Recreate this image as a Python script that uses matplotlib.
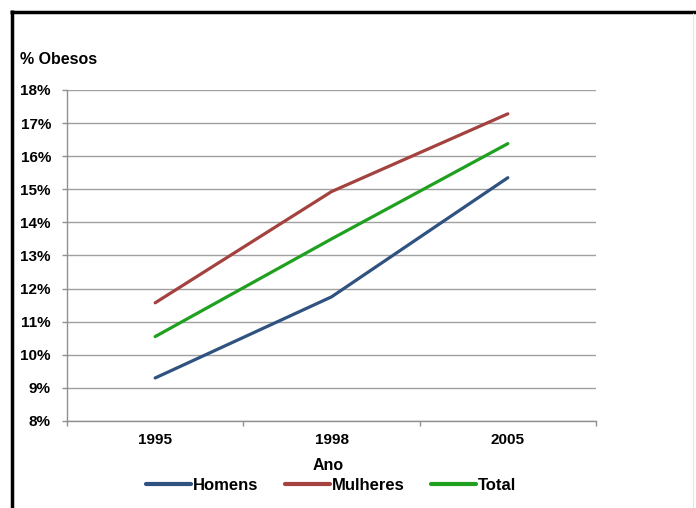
import matplotlib
matplotlib.use("Agg")
import matplotlib.pyplot as plt
from matplotlib.lines import Line2D
from matplotlib.ticker import FixedLocator, FuncFormatter

anos = ["1995", "1998", "2005"]
homens = [9.3, 11.75, 15.35]
mulheres = [11.57, 14.93, 17.28]
total = [10.55, 13.5, 16.38]
y_ticks = list(range(8, 19))

series = [
    ("Homens", homens, "#2f5280"),
    ("Mulheres", mulheres, "#a3423f"),
    ("Total", total, "#1fa01f"),
]

plt.rcParams['font.family'] = ['Liberation Sans Narrow', 'Liberation Sans', 'DejaVu Sans']

W, H = 696, 508
fig = plt.figure(figsize=(W / 100, H / 100), dpi=100)
fig.patch.set_facecolor("white")

ax = fig.add_axes([67 / W, 1 - 421 / H, (596 - 67) / W, (421 - 90) / H])
x = list(range(len(anos)))
handles = []
for name, vals, col in series:
    ln, = ax.plot(x, vals, color=col, lw=2.3, solid_capstyle="round", label=name)
    handles.append(ln)

ax.set_xlim(-0.5, len(anos) - 0.5)
ax.set_ylim(y_ticks[0], y_ticks[-1])
ax.yaxis.set_major_locator(FixedLocator(y_ticks))
ax.yaxis.set_major_formatter(FuncFormatter(lambda v, p: f"{v:.0f}%"))
ax.grid(axis="y", color="#a0a0a0", lw=1.0)
ax.set_axisbelow(True)

ax.set_xticks(x)
ax.set_xticklabels(anos)
ax.set_xticks([i - 0.5 for i in range(len(anos) + 1)], minor=True)
ax.tick_params(axis="x", which="major", length=0, pad=9, labelsize=11)
ax.tick_params(axis="x", which="minor", length=3.6, color="#909090", width=1)
ax.tick_params(axis="y", length=3.6, color="#909090", width=1, labelsize=11, pad=8)
for lab in ax.get_xticklabels() + ax.get_yticklabels():
    lab.set_fontweight("bold")

for s in ["top", "right"]:
    ax.spines[s].set_visible(False)
for s in ["left", "bottom"]:
    ax.spines[s].set_color("#909090")
    ax.spines[s].set_linewidth(1.0)

fig.text(20 / W, 1 - 60 / H, "% Obesos", fontsize=11.5, fontweight="bold",
         va="center", ha="left")
fig.text(328 / W, 1 - 466 / H, "Ano", fontsize=11.5, fontweight="bold",
         va="center", ha="center")

leg = fig.legend(handles=handles, loc="center", bbox_to_anchor=(331 / W, 1 - 485 / H),
                 ncol=3, frameon=False, handlelength=2.7, handletextpad=0.1,
                 columnspacing=1.6, prop={"size": 12, "weight": "bold"})
for h in leg.get_lines():
    h.set_linewidth(3)

# Frame edges around the figure
fig.add_artist(Line2D([11.5 / W, 11.5 / W], [0, 1 - 10 / H], color="black", lw=2.5,
                      solid_capstyle="butt", transform=fig.transFigure))
fig.add_artist(Line2D([10 / W, 1], [1 - 11.5 / H, 1 - 11.5 / H], color="black", lw=2.5,
                      solid_capstyle="butt", transform=fig.transFigure))
fig.add_artist(Line2D([692.5 / W, 692.5 / W], [0, 1 - 13 / H], color="#e4e4e4", lw=0.8,
                      solid_capstyle="butt", transform=fig.transFigure))

fig.savefig("out.png", dpi=100, facecolor="white")
